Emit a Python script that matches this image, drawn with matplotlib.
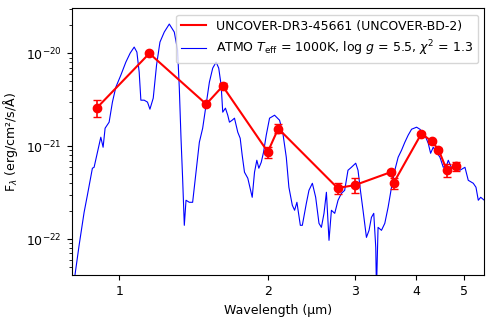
import numpy as np
import matplotlib
matplotlib.use("Agg")
import matplotlib.pyplot as plt
from matplotlib.ticker import (FixedLocator, FixedFormatter, NullLocator, NullFormatter,
                               LogFormatterSciNotation, LogLocator)

# Photometry (wavelength in micron, flux in 1e-21 erg/cm2/s/A)
phot_wl = [0.90, 1.15, 1.50, 1.62, 2.00, 2.10, 2.77, 3.00, 3.56, 3.60, 4.10, 4.30, 4.44, 4.61, 4.81]
phot_flux = [2.59, 10.0, 2.84, 4.44, 0.868, 1.55, 0.355, 0.380, 0.528, 0.402, 1.37, 1.13, 0.92, 0.561, 0.613]
phot_err = [0.55, 0.25, 0.10, 0.30, 0.12, 0.17, 0.048, 0.07, 0.03, 0.055, 0.05, 0.04, 0.04, 0.09, 0.067]

# ATMO model spectrum (wavelength in micron, log10 flux)
model_wl = [0.8106, 0.8282, 0.8478, 0.8608, 0.8813, 0.8883, 0.9021, 0.9166, 0.9265, 0.9352,
            0.9529, 0.9677, 0.9833, 1.0066, 1.0304, 1.0514, 1.0713, 1.0849, 1.0966, 1.1053,
            1.1226, 1.1401, 1.1530, 1.1710, 1.1893, 1.2084, 1.2330, 1.2622, 1.2920, 1.3122,
            1.3227, 1.3333, 1.3433, 1.3540, 1.3648, 1.3861, 1.4077, 1.4303, 1.4526, 1.4753,
            1.4990, 1.5223, 1.5461, 1.5709, 1.5902, 1.6082, 1.6203, 1.6409, 1.6587, 1.6719,
            1.6932, 1.7116, 1.7382, 1.7579, 1.7744, 1.7936, 1.8216, 1.8595, 1.8796, 1.9000,
            1.9179, 1.9395, 1.9605, 1.9855, 2.0164, 2.0641, 2.1130, 2.1459, 2.1804, 2.2071,
            2.2426, 2.2668, 2.2914, 2.3282, 2.3501, 2.3946, 2.4240, 2.4629, 2.5013, 2.5403,
            2.5690, 2.6005, 2.6299, 2.6621, 2.6922, 2.7342, 2.7768, 2.8214, 2.8642, 2.9089,
            2.9556, 3.0158, 3.0484, 3.0828, 3.1206, 3.1707, 3.2096, 3.2458, 3.2810, 3.3119,
            3.3227, 3.3477, 3.4015, 3.4546, 3.5085, 3.5648, 3.6204, 3.6769, 3.7359, 3.7942,
            3.8533, 3.9152, 4.0078, 4.0703, 4.1668, 4.2318, 4.2796, 4.3321, 4.4016, 4.4703,
            4.5400, 4.6129, 4.6476, 4.7206, 4.8325, 4.9078, 5.0241, 5.1022, 5.2232, 5.2897,
            5.3470, 5.4074, 5.4993]
model_logf = [-22.424, -22.068, -21.712, -21.529, -21.237, -21.227, -21.065, -20.903, -21.011, -20.806,
              -20.741, -20.525, -20.364, -20.234, -20.094, -19.997, -19.932, -19.986, -20.202, -20.504,
              -20.504, -20.525, -20.601, -20.482, -20.126, -19.878, -19.770, -19.684, -19.770, -19.964,
              -20.374, -20.914, -21.345, -21.852, -21.582, -21.604, -21.604, -21.280, -20.957, -20.806,
              -20.558, -20.310, -20.159, -20.094, -20.159, -20.342, -20.633, -20.590, -20.666, -20.741,
              -20.720, -20.698, -20.849, -20.914, -21.097, -21.280, -21.345, -21.550, -21.280, -21.151,
              -21.237, -21.173, -21.065, -20.881, -20.698, -20.666, -20.720, -20.860, -21.119, -21.442,
              -21.636, -21.690, -21.604, -21.852, -21.852, -21.615, -21.475, -21.399, -21.550, -21.831,
              -21.874, -21.723, -21.496, -22.014, -21.690, -21.723, -21.582, -21.507, -21.475, -21.259,
              -21.227, -21.183, -21.259, -21.475, -21.690, -21.982, -21.906, -21.766, -21.723, -22.090,
              -22.553, -21.874, -21.906, -21.831, -21.658, -21.442, -21.259, -21.119, -21.043, -20.957,
              -20.881, -20.817, -20.795, -20.817, -20.881, -20.968, -21.076, -21.011, -21.065, -21.119,
              -21.227, -21.205, -21.151, -21.237, -21.227, -21.259, -21.227, -21.367, -21.399, -21.442,
              -21.582, -21.550, -21.582]

x_ticks = [1, 2, 3, 4, 5]
x_ticklabels = ["1", "2", "3", "4", "5"]
y_ticks = [1e-22, 1e-21, 1e-20]

label_obs = "UNCOVER-DR3-45661 (UNCOVER-BD-2)"
label_model = r"ATMO $T_\mathrm{eff}$ = 1000K, log $g$ = 5.5, $\chi^2$ = 1.3"

fig = plt.figure(figsize=(4.93, 3.23), dpi=100)
ax = fig.add_axes([0.1454, 0.1477, 0.8370, 0.8266])

scale = 1e-21
pf = np.array(phot_flux) * scale
pe = np.array(phot_err) * scale
ax.plot(phot_wl, pf, color="red", lw=1.5, label=label_obs, zorder=3)
ax.errorbar(phot_wl, pf, yerr=pe, fmt="o", color="red", markersize=6,
            capsize=3, elinewidth=1.2, zorder=4)
ax.plot(model_wl, 10 ** np.array(model_logf), color="blue", lw=0.8, label=label_model, zorder=2)

ax.set_xscale("log")
ax.set_yscale("log")
ax.set_xlim(0.8, 5.5)
ax.set_ylim(4.07e-23, 3.06e-20)
ax.xaxis.set_major_locator(FixedLocator(x_ticks))
ax.xaxis.set_major_formatter(FixedFormatter(x_ticklabels))
ax.xaxis.set_minor_locator(NullLocator())
ax.yaxis.set_major_locator(FixedLocator(y_ticks))
ax.yaxis.set_major_formatter(LogFormatterSciNotation())
ax.yaxis.set_minor_locator(LogLocator(base=10, subs=np.arange(2, 10)))
ax.yaxis.set_minor_formatter(NullFormatter())
ax.tick_params(labelsize=9)

ax.set_xlabel("Wavelength (μm)", fontsize=9)
ax.set_ylabel(r"F$_\lambda$ (erg/cm²/s/Å)", fontsize=9)

ax.legend(loc="upper right", fontsize=9, handlelength=2.0)

fig.savefig("out.png", dpi=100)
